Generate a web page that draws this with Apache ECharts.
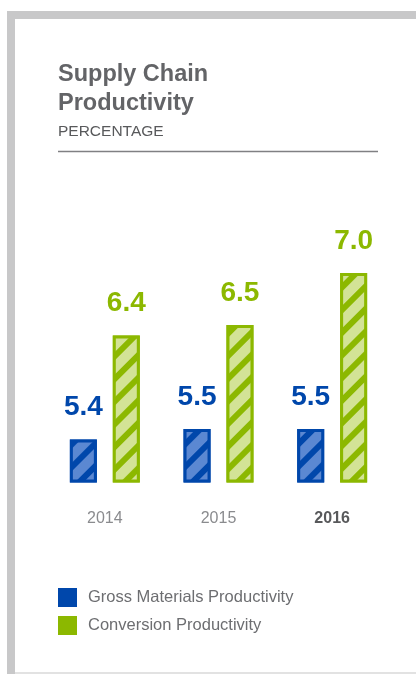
<!DOCTYPE html>
<html>
<head>
<meta charset="utf-8">
<script src="https://cdn.jsdelivr.net/npm/echarts@6/dist/echarts.min.js"></script>
<style>
  html, body { margin: 0; padding: 0; background: #fff; }
  #chart { width: 416px; height: 674px; }
</style>
</head>
<body>
<div id="chart"></div>
<script>
  // data
  var years = ['2014', '2015', '2016'];
  var grossMaterials = [5.4, 5.5, 5.5];
  var conversion = [6.4, 6.5, 7.0];
  var seriesNames = ['Gross Materials Productivity', 'Conversion Productivity'];

  var BLUE = '#0047ab';
  var GREEN = '#8cb800';
  var FONT = '"Liberation Sans", Arial, sans-serif';

  function stripes(light) {
    return {
      symbol: 'rect',
      color: light,
      dashArrayX: [1, 0],
      dashArrayY: [10, 6],
      rotation: -Math.PI / 4,
      symbolSize: 1
    };
  }

  function valueLabel(color) {
    return {
      show: true,
      position: 'top',
      distance: 18,
      fontSize: 28,
      fontWeight: 'bold',
      fontFamily: FONT,
      color: color,
      formatter: function (p) { return p.value.toFixed(1); }
    };
  }

  var chart = echarts.init(document.getElementById('chart'));

  chart.setOption({
    backgroundColor: '#fff',
    animation: false,
    textStyle: { fontFamily: FONT },
    title: {
      text: 'Supply Chain\nProductivity',
      subtext: 'PERCENTAGE',
      left: 53,
      top: 55,
      itemGap: 5,
      textStyle: {
        fontFamily: FONT,
        fontSize: 23.5,
        lineHeight: 29,
        fontWeight: 'bold',
        color: '#636467'
      },
      subtextStyle: {
        fontFamily: FONT,
        fontSize: 15.5,
        lineHeight: 18,
        color: '#58595b'
      }
    },
    legend: {
      orient: 'vertical',
      left: 58,
      top: 588,
      padding: 0,
      itemWidth: 19,
      itemHeight: 19,
      itemGap: 9,
      icon: 'rect',
      textStyle: { fontFamily: FONT, fontSize: 16.5, color: '#6d6e71', padding: [0, 0, 0, 6] },
      data: [
        { name: seriesNames[0], itemStyle: { color: BLUE, borderWidth: 0, decal: 'none' } },
        { name: seriesNames[1], itemStyle: { color: GREEN, borderWidth: 0, decal: 'none' } }
      ]
    },
    grid: { left: 48, right: 27, top: 221, bottom: 193 },
    xAxis: {
      type: 'category',
      data: years,
      axisLine: { show: false },
      axisTick: { show: false },
      axisLabel: {
        margin: 30,
        fontSize: 16,
        color: '#8a8b8e',
        formatter: function (v) {
          return v === '2016' ? '{b|' + v + '}' : v;
        },
        rich: {
          b: { fontSize: 16, fontWeight: 'bold', color: '#58595b', fontFamily: FONT }
        }
      }
    },
    yAxis: {
      type: 'value',
      min: 5,
      max: 7.5,
      show: false,
      splitLine: { show: false }
    },
    graphic: [
      { type: 'rect', shape: { x: 7, y: 11, width: 8, height: 663 }, style: { fill: '#c8c8c9' } },
      { type: 'rect', shape: { x: 7, y: 11, width: 409, height: 8 }, style: { fill: '#c8c8c9' } },
      { type: 'rect', shape: { x: 15, y: 672, width: 401, height: 2 }, style: { fill: '#e2e2e2' } },
      { type: 'line', shape: { x1: 58, y1: 151.5, x2: 378, y2: 151.5 }, style: { stroke: '#808083', lineWidth: 1.5 } }
    ],
    series: [
      {
        name: seriesNames[0],
        type: 'bar',
        data: grossMaterials,
        barWidth: 27,
        barGap: '59%',
        itemStyle: {
          color: BLUE,
          borderColor: BLUE,
          borderWidth: 3,
          decal: stripes('rgba(140,170,230,0.65)')
        },
        label: valueLabel(BLUE)
      },
      {
        name: seriesNames[1],
        type: 'bar',
        data: conversion,
        barWidth: 27,
        itemStyle: {
          color: GREEN,
          borderColor: GREEN,
          borderWidth: 3,
          decal: stripes('rgba(235,242,200,0.75)')
        },
        label: valueLabel(GREEN)
      }
    ]
  });
</script>
</body>
</html>
